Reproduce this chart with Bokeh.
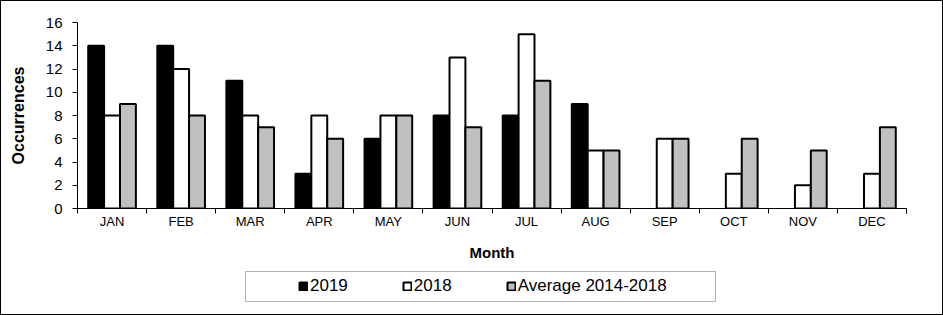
from bokeh.plotting import figure
from bokeh.models import Range1d, FixedTicker, Legend, LegendItem, BoxAnnotation
from bokeh.layouts import column
from bokeh.embed import file_html
from bokeh.resources import INLINE
import numpy as np

months = ["JAN", "FEB", "MAR", "APR", "MAY", "JUN", "JUL", "AUG", "SEP", "OCT", "NOV", "DEC"]
y2019 = [14, 14, 11, 3, 6, 8, 8, 9, None, None, None, None]
y2018 = [8, 12, 8, 8, 8, 13, 15, 5, 6, 3, 2, 3]
avg_2014_2018 = [9, 8, 7, 6, 8, 7, 11, 5, 6, 6, 5, 7]
y_ticks = [0, 2, 4, 6, 8, 10, 12, 14, 16]
series_names = ["2019", "2018", "Average 2014-2018"]

FONT = "Liberation Sans"
W = 941
H_MAIN, H_LEG = 262, 51

idx = np.arange(len(months))
bw = 0.23
fills = ["black", "white", "#c0c0c0"]

def col(vals):
    return [np.nan if v is None else v for v in vals]

series = [col(y2019), col(y2018), col(avg_2014_2018)]

p = figure(width=W, height=H_MAIN, output_backend="svg", toolbar_location=None,
           x_range=Range1d(-0.5, len(months) - 0.5), y_range=Range1d(0, 16),
           min_border_left=76, min_border_right=36, min_border_top=21,
           min_border_bottom=53)
p.background_fill_color = "white"
p.border_fill_color = "white"
p.outline_line_color = None
p.xgrid.visible = False
p.ygrid.visible = False

for k, (vals, fc) in enumerate(zip(series, fills)):
    p.vbar(x=idx + (k - 1) * bw, top=vals, bottom=0, width=bw, fill_color=fc,
           line_color="black", line_width=2)

# x axis
xa = p.xaxis[0]
xa.ticker = FixedTicker(ticks=list(idx), minor_ticks=list(np.arange(len(months) + 1) - 0.5))
xa.major_label_overrides = {int(i): m for i, m in zip(idx, months)}
xa.major_tick_out = 0
xa.major_tick_in = 0
xa.minor_tick_out = 5
xa.minor_tick_in = 0
xa.minor_tick_line_color = "black"
xa.axis_line_color = "black"
xa.major_label_standoff = 0
xa.major_label_text_font = FONT
xa.major_label_text_font_size = "13px"
xa.major_label_text_color = "black"
xa.axis_label = "Month"
xa.axis_label_text_font = FONT
xa.axis_label_text_font_size = "15px"
xa.axis_label_text_font_style = "bold"
xa.axis_label_text_color = "black"
xa.axis_label_standoff = 12

ya = p.yaxis[0]
ya.ticker = FixedTicker(ticks=y_ticks, minor_ticks=[])
ya.major_tick_out = 5
ya.major_tick_in = 0
ya.major_tick_line_color = "black"
ya.axis_line_color = "black"
ya.major_label_standoff = 10
ya.major_label_text_font = FONT
ya.major_label_text_font_size = "15px"
ya.major_label_text_color = "black"
ya.axis_label = "Occurrences"
ya.axis_label_text_font = FONT
ya.axis_label_text_font_size = "16px"
ya.axis_label_text_font_style = "bold"
ya.axis_label_text_color = "black"
ya.axis_label_standoff = 16

# legend strip (own small figure, glyph renderers hidden, legend drawn in its frame)
lf = figure(width=W, height=H_LEG, output_backend="svg", toolbar_location=None,
            x_range=Range1d(-0.5, len(months) - 0.5), y_range=Range1d(0, 16),
            x_axis_type=None, y_axis_type=None, min_border=0)
lf.background_fill_color = "white"
lf.border_fill_color = "white"
lf.outline_line_color = None
lf.grid.visible = False

items = []
for k, (vals, fc, name) in enumerate(zip(series, fills, series_names)):
    r = lf.vbar(x=idx + (k - 1) * bw, top=vals, bottom=0, width=bw, fill_color=fc,
                line_color="black", line_width=2, visible=False)
    items.append(LegendItem(label=name, renderers=[r]))

legend = Legend(items=items, orientation="horizontal", location=(221, 18),
                glyph_width=10, glyph_height=10, label_standoff=2, spacing=54,
                label_text_font=FONT, label_text_font_size="17px",
                label_text_color="black", border_line_alpha=0,
                background_fill_alpha=0, padding=0, margin=0)
lf.add_layout(legend, "center")
lf.add_layout(BoxAnnotation(left=168, right=638, top=43, bottom=13,
                            left_units="screen", right_units="screen",
                            top_units="screen", bottom_units="screen",
                            fill_alpha=0, line_color="black", line_width=1))

layout = column(p, lf, spacing=0, styles={"border": "1px solid black"})

open("out.html", "w").write(file_html(layout, INLINE))
